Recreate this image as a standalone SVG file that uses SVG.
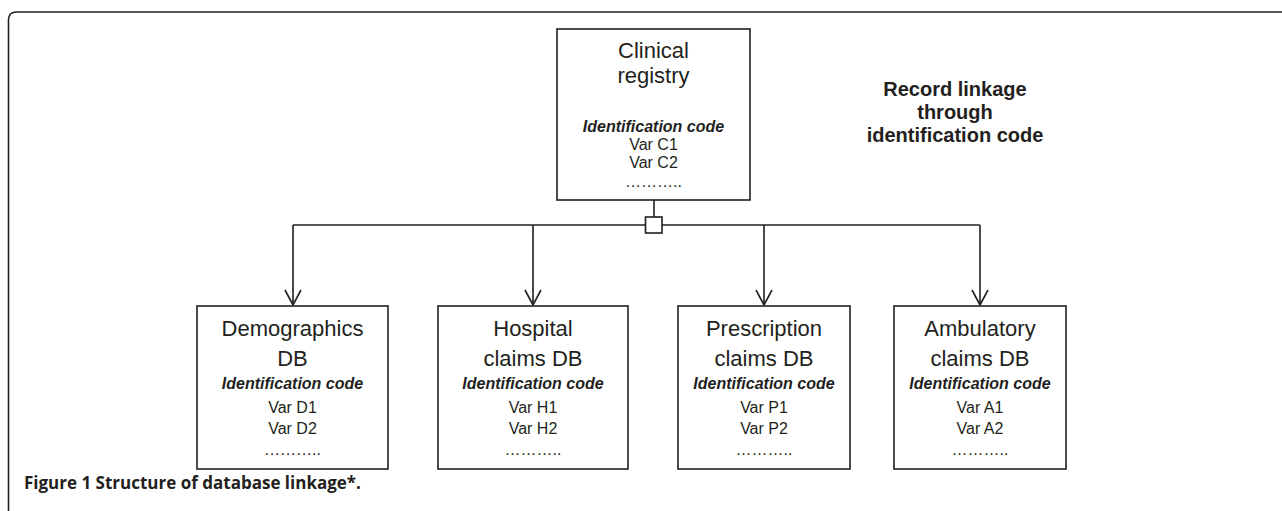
<svg xmlns="http://www.w3.org/2000/svg" width="1282" height="511" viewBox="0 0 1282 511">
<style>
.box{fill:#fff;stroke:#231f20;stroke-width:1.6}
.ln{fill:none;stroke:#231f20;stroke-width:1.6}
.t{font-family:"Liberation Sans",Arial,sans-serif;fill:#231f20;text-anchor:middle}
.big{font-size:22px}
.id{font-size:16px;font-weight:bold;font-style:italic}
.v{font-size:16px}
.rl{font-size:20px;font-weight:bold}
.cap{font-family:"Open Sans","Liberation Sans",sans-serif;font-size:17px;font-weight:bold;fill:#231f20}
</style>
<path class="ln" d="M8.5 511 V20 Q8.5 12 16.5 12 H1282"/>
<g id="connectors">
<path class="ln" d="M654 200 V217"/>
<path class="ln" d="M293 225 H980"/>
<path class="ln" d="M293 225 V304 M533 225 V304 M764 225 V304 M980 225 V304"/>
<path class="ln" d="M285 290 L293 305 L301 290 M525 290 L533 305 L541 290 M756 290 L764 305 L772 290 M972 290 L980 305 L988 290"/>
<rect class="box" x="645.5" y="217" width="16.5" height="16"/>
</g>
<g id="clinical">
<rect class="box" x="557" y="29" width="193" height="171"/>
<text class="t big" x="653.5" y="58">Clinical</text>
<text class="t big" x="653.5" y="83">registry</text>
<text class="t id" x="653.5" y="132">Identification code</text>
<text class="t v" x="653.5" y="150">Var C1</text>
<text class="t v" x="653.5" y="168">Var C2</text>
<text class="t v" x="653.5" y="187">………..</text>
</g>
<g id="label">
<text class="t rl" x="955" y="96">Record linkage</text>
<text class="t rl" x="955" y="119">through</text>
<text class="t rl" x="955" y="142">identification code</text>
</g>
<g id="demographics">
<rect class="box" x="197" y="306" width="191" height="163"/>
<text class="t big" x="292.5" y="336">Demographics</text>
<text class="t big" x="292.5" y="366">DB</text>
<text class="t id" x="292.5" y="389">Identification code</text>
<text class="t v" x="292.5" y="413">Var D1</text>
<text class="t v" x="292.5" y="434">Var D2</text>
<text class="t v" x="292.5" y="455">………..</text>
</g>
<g id="hospital">
<rect class="box" x="438" y="306" width="190" height="163"/>
<text class="t big" x="533" y="336">Hospital</text>
<text class="t big" x="533" y="366">claims DB</text>
<text class="t id" x="533" y="389">Identification code</text>
<text class="t v" x="533" y="413">Var H1</text>
<text class="t v" x="533" y="434">Var H2</text>
<text class="t v" x="533" y="455">………..</text>
</g>
<g id="prescription">
<rect class="box" x="678" y="306" width="172" height="163"/>
<text class="t big" x="764" y="336">Prescription</text>
<text class="t big" x="764" y="366">claims DB</text>
<text class="t id" x="764" y="389">Identification code</text>
<text class="t v" x="764" y="413">Var P1</text>
<text class="t v" x="764" y="434">Var P2</text>
<text class="t v" x="764" y="455">………..</text>
</g>
<g id="ambulatory">
<rect class="box" x="894" y="306" width="172" height="163"/>
<text class="t big" x="980" y="336">Ambulatory</text>
<text class="t big" x="980" y="366">claims DB</text>
<text class="t id" x="980" y="389">Identification code</text>
<text class="t v" x="980" y="413">Var A1</text>
<text class="t v" x="980" y="434">Var A2</text>
<text class="t v" x="980" y="455">………..</text>
</g>
<text class="cap" x="24" y="489">Figure 1 Structure of database linkage*.</text>
</svg>
